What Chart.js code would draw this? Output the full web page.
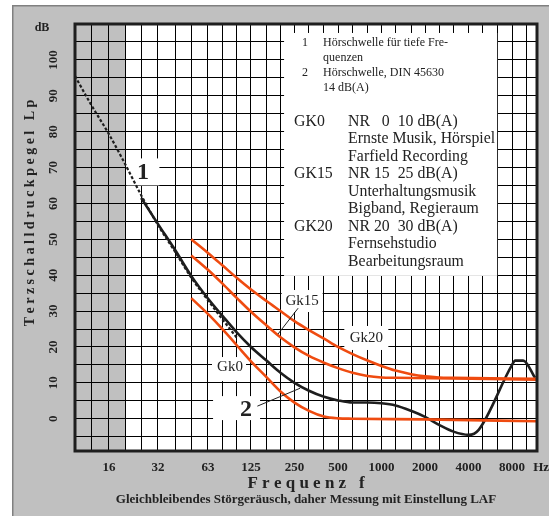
<!DOCTYPE html>
<html><head><meta charset="utf-8">
<script src="https://cdn.jsdelivr.net/npm/chart.js@4.4.1/dist/chart.umd.min.js"></script>
<style>html,body{margin:0;padding:0;background:#fff;overflow:hidden}canvas{display:block}</style>
</head><body>
<canvas id="c" width="549" height="516"></canvas>
<script>
// ---------------- data ----------------
// third-octave band centre frequencies (Hz) = categories / grid
const bandFreqs = [10,12.5,16,20,25,31.5,40,50,63,80,100,125,160,200,250,315,400,500,630,800,1000,1250,1600,2000,2500,3150,4000,5000,6300,8000,10000];
const xLabelFreqs = [16,31.5,63,125,250,500,1000,2000,4000,8000];
const xLabelTexts = ['16','32','63','125','250','500','1000','2000','4000','8000'];
const yGridValues = [-5,0,5,10,15,20,25,30,35,40,45,50,55,60,65,70,75,80,85,90,95,100,105];
const yLabelValues = [0,10,20,30,40,50,60,70,80,90,100];

// curve 1: Hörschwelle für tiefe Frequenzen (dashed)
const c1Freq = [10,12.5,16,20,25,31.5,40,50,63,80,100];
const c1Level = [95.5,87.5,79.3,71,62.3,54,46.5,39.3,33,27.5,22.5];
// curve 2: Hörschwelle DIN 45630 (solid black)
const c2Freq = [25,31.5,40,50,63,80,100,125,160,200,250,315,400,500,630,800,1000,1250,1600,2000,2500,3150,4000,4700,8000,8400,9550,11560];
const c2Level = [61.5,54.3,47,39.8,33.5,28.5,24,20,16.2,12.8,10,7.8,6.1,5.1,4.5,4.5,4.3,3.7,2.2,0.5,-1.7,-3.6,-4.5,-3.1,15,16.2,16.2,11.4];
// GK0
const gk0Freq = [50,63,80,100,125,160,200,250,315,400,500,630,2000,11900];
const gk0Level = [33.6,29.2,24.8,20.4,16,11.6,7.6,4.5,2.2,0.6,0.1,0,-0.2,-0.7];
// GK15
const gk15Freq = [50,63,80,100,125,160,200,250,315,400,500,630,800,1000,1250,11900];
const gk15Level = [45.5,41.5,37.5,33.6,29.8,26,22.7,19.9,17.5,15.6,14.1,12.8,11.9,11.5,11.4,10.9];
// GK20
const gk20Freq = [50,63,80,100,125,160,200,250,315,400,500,630,800,1000,1250,1600,2000,2500,3150,11900];
const gk20Level = [50,46.2,42.6,39.2,36,32.8,30,27.2,24.7,22.3,20,18,16.2,14.7,13.4,12.4,11.8,11.5,11.4,11.1];

// texts
const yTitle = '              T e r z s c h a l l d r u c k p e g e l   L p';
const xTitle = 'F r e q u e n z   f';
const bottomNote = 'Gleichbleibendes Störgeräusch, daher Messung mit Einstellung LAF';
const legendSmall = [['1','Hörschwelle für tiefe Fre-'],['','quenzen'],['2','Hörschwelle, DIN 45630'],['','14 dB(A)']];
const legendBig = [['GK0','NR   0  10 dB(A)'],['','Ernste Musik, Hörspiel'],['','Farfield Recording'],['GK15','NR 15  25 dB(A)'],['','Unterhaltungsmusik'],['','Bigband, Regieraum'],['GK20','NR 20  30 dB(A)'],['','Fernsehstudio'],['','Bearbeitungsraum']];
const annotations = [
  {text:'1', f:25.6, db:68.5, font:'bold 24px "Liberation Serif"', w:33, h:27, dx:0, dy:-1},
  {text:'2', f:115.6, db:2.4, font:'bold 24px "Liberation Serif"', w:47, h:24, dx:-9.5, dy:-2},
  {text:'Gk0', f:89.5, db:14.4, font:'15px "Liberation Serif"', w:34, h:24, dx:-1, dy:2},
  {text:'Gk15', f:282.5, db:32.8, font:'15px "Liberation Serif"', w:41, h:22, dx:0, dy:0},
  {text:'Gk20', f:785, db:22.5, font:'15px "Liberation Serif"', w:44, h:24, dx:0, dy:0}
];
const leaders = [[138.4,3.5,273.5,8.5],[264.9,30.8,192.3,23.6]];
const legendBoxRange = {f0:211.8, f1:6310, db0:107.5, db1:39.8};
const shadeRange = [10, 20];

// ---------------- style ----------------
const PANEL = '#c0c0c0';
const ORANGE = '#ef4b10';
const INK = '#1e1e1e';
Chart.defaults.font.family = '"Liberation Serif", "Times New Roman", serif';
Chart.defaults.color = '#222';

// third-octave axis with slightly wider low bands (as in the printed form)
const LOW_BANDS = 8, LOW_W = 16.625, HIGH_W = 14.45;
function bandOf(f){ return 10*Math.log10(f/10); }
function warp(b){ return b <= LOW_BANDS ? b*LOW_W : LOW_BANDS*LOW_W + (b-LOW_BANDS)*HIGH_W; }
function unwarp(w){ return w <= LOW_BANDS*LOW_W ? w/LOW_W : LOW_BANDS + (w-LOW_BANDS*LOW_W)/HIGH_W; }
class TerzScale extends Chart.LinearScale {
  static id = 'terz';
  static defaults = {};
  getPixelForValue(value){
    if (value === null || value === undefined || isNaN(value)) return NaN;
    const w0 = warp(bandOf(this.min)), w1 = warp(bandOf(this.max));
    return this.left + (warp(bandOf(value)) - w0)/(w1 - w0)*this.width;
  }
  getValueForPixel(pixel){
    const w0 = warp(bandOf(this.min)), w1 = warp(bandOf(this.max));
    const w = w0 + (pixel - this.left)/this.width*(w1 - w0);
    return 10*Math.pow(10, unwarp(w)/10);
  }
}
Chart.register(TerzScale);

const pts = (fs, ls) => fs.map((f,i)=>({x:f, y:ls[i]}));

const decor = {
  id:'decor',
  beforeDraw(chart){
    const {ctx, chartArea:a, scales:{x}} = chart;
    ctx.save();
    ctx.fillStyle = '#fff'; ctx.fillRect(0,0,chart.width,chart.height);
    ctx.fillStyle = PANEL; ctx.fillRect(12,5,chart.width-12,chart.height-5);
    ctx.strokeStyle = '#808080'; ctx.lineWidth = 1.5;
    ctx.beginPath(); ctx.moveTo(12.75,chart.height); ctx.lineTo(12.75,5.75); ctx.lineTo(chart.width,5.75); ctx.stroke();
    ctx.fillStyle = '#fff'; ctx.fillRect(a.left,a.top,a.width,a.height);
    const g0 = x.getPixelForValue(shadeRange[0]), g1 = x.getPixelForValue(shadeRange[1]);
    ctx.fillStyle = PANEL; ctx.fillRect(g0,a.top,g1-g0,a.height);
    ctx.restore();
  },
  beforeDatasetsDraw(chart){
    const {ctx, scales:{x,y}} = chart;
    ctx.save();
    ctx.fillStyle = '#fff';
    const bx0 = x.getPixelForValue(legendBoxRange.f0), bx1 = x.getPixelForValue(legendBoxRange.f1);
    const by0 = y.getPixelForValue(legendBoxRange.db0), by1 = y.getPixelForValue(legendBoxRange.db1);
    ctx.fillRect(bx0,by0,bx1-bx0,by1-by0);
    annotations.forEach(an=>{
      const px = x.getPixelForValue(an.f)+an.dx, py = y.getPixelForValue(an.db)+an.dy;
      ctx.fillRect(px-an.w/2, py-an.h/2, an.w, an.h);
    });
    ctx.restore();
  },
  afterDatasetsDraw(chart){
    const {ctx, chartArea:a, scales:{x,y}} = chart;
    ctx.save();
    // leader lines
    ctx.strokeStyle = INK; ctx.lineWidth = 1;
    leaders.forEach(l=>{
      ctx.beginPath();
      ctx.moveTo(x.getPixelForValue(l[0]), y.getPixelForValue(l[1]));
      ctx.lineTo(x.getPixelForValue(l[2]), y.getPixelForValue(l[3]));
      ctx.stroke();
    });
    // annotation texts
    ctx.fillStyle = '#222'; ctx.textBaseline = 'middle'; ctx.textAlign = 'center';
    annotations.forEach(an=>{
      ctx.font = an.font;
      ctx.fillText(an.text, x.getPixelForValue(an.f), y.getPixelForValue(an.db));
    });
    // legend texts
    const bx0 = x.getPixelForValue(legendBoxRange.f0), by0 = y.getPixelForValue(legendBoxRange.db0);
    ctx.font = '12px "Liberation Serif"';
    legendSmall.forEach((r,i)=>{
      const yy = by0 + 10.3 + i*14.7;
      ctx.textAlign = 'center'; ctx.fillText(r[0], bx0+21, yy);
      ctx.textAlign = 'left'; ctx.fillText(r[1], bx0+39, yy);
    });
    ctx.font = '15.8px "Liberation Serif"';
    legendBig.forEach((r,i)=>{
      const yy = by0 + 88.7 + i*17.5;
      ctx.textAlign = 'left';
      ctx.fillText(r[0], bx0+10, yy);
      ctx.fillText(r[1], bx0+64, yy);
    });
    // axis extras
    ctx.font = 'bold 12px "Liberation Serif"'; ctx.textAlign = 'center';
    ctx.fillText('dB', a.left-33, y.getPixelForValue(109));
    ctx.font = 'bold 13px "Liberation Serif"';
    ctx.fillText('Hz', x.getPixelForValue(12700), a.bottom+17);
    // frame
    ctx.strokeStyle = INK; ctx.lineWidth = 3;
    ctx.strokeRect(a.left, a.top, a.width, a.height);
    ctx.restore();
  }
};

new Chart(document.getElementById('c'), {
  type:'line',
  data:{ datasets:[
    {label:'GK0', data:pts(gk0Freq,gk0Level), borderColor:ORANGE, borderWidth:2.6, cubicInterpolationMode:'monotone'},
    {label:'GK15', data:pts(gk15Freq,gk15Level), borderColor:ORANGE, borderWidth:2.6, cubicInterpolationMode:'monotone'},
    {label:'GK20', data:pts(gk20Freq,gk20Level), borderColor:ORANGE, borderWidth:2.6, cubicInterpolationMode:'monotone'},
    {label:'1', data:pts(c1Freq,c1Level), borderColor:INK, borderWidth:2.2, borderDash:[3,2], cubicInterpolationMode:'monotone'},
    {label:'2', data:pts(c2Freq,c2Level), borderColor:INK, borderWidth:2.6, cubicInterpolationMode:'monotone'}
  ]},
  options:{
    responsive:false, animation:false, devicePixelRatio:1,
    layout:{padding:{left:0, top:24, right:12, bottom:0}},
    elements:{point:{radius:0, hoverRadius:0}, line:{fill:false}},
    plugins:{
      legend:{display:false}, tooltip:{enabled:false},
      title:{display:true, position:'bottom', fullSize:false, text:bottomNote, color:'#222',
        font:{size:13, weight:'bold', lineHeight:1.2}, padding:{top:0, bottom:8.2}}
    },
    scales:{
      x:{ type:'terz', min:10, max:11900, bounds:'data',
        afterBuildTicks(s){ s.ticks = bandFreqs.slice(1).map(v=>({value:v})); },
        afterFit(s){ s.height = 41.2; },
        grid:{color:'#000', lineWidth:1, drawTicks:false},
        border:{display:false},
        ticks:{autoSkip:false, minRotation:0, maxRotation:0, padding:9, color:'#222',
          font:{size:13, weight:'bold'},
          callback(v){ const i = xLabelFreqs.indexOf(v); return i>=0 ? xLabelTexts[i] : ''; }},
        title:{display:true, text:xTitle, color:'#222', font:{size:17, weight:'bold', lineHeight:1}, padding:{top:0,bottom:0}}
      },
      y:{ type:'linear', min:-9, max:110, bounds:'data',
        afterBuildTicks(s){ s.ticks = yGridValues.map(v=>({value:v})); },
        afterFit(s){ s.width = 75; },
        grid:{color:'#000', lineWidth:1, drawTicks:false},
        border:{display:false},
        ticks:{autoSkip:false, minRotation:90, maxRotation:90, crossAlign:'center', padding:12, color:'#222',
          font:{size:13, weight:'bold'},
          callback(v){ return yLabelValues.includes(v) ? String(v) : ''; }},
        title:{display:true, text:yTitle, color:'#222', font:{size:14, weight:'bold', lineHeight:1.2}, padding:{top:21.6,bottom:0}}
      }
    }
  },
  plugins:[decor]
});
</script>
</body></html>
